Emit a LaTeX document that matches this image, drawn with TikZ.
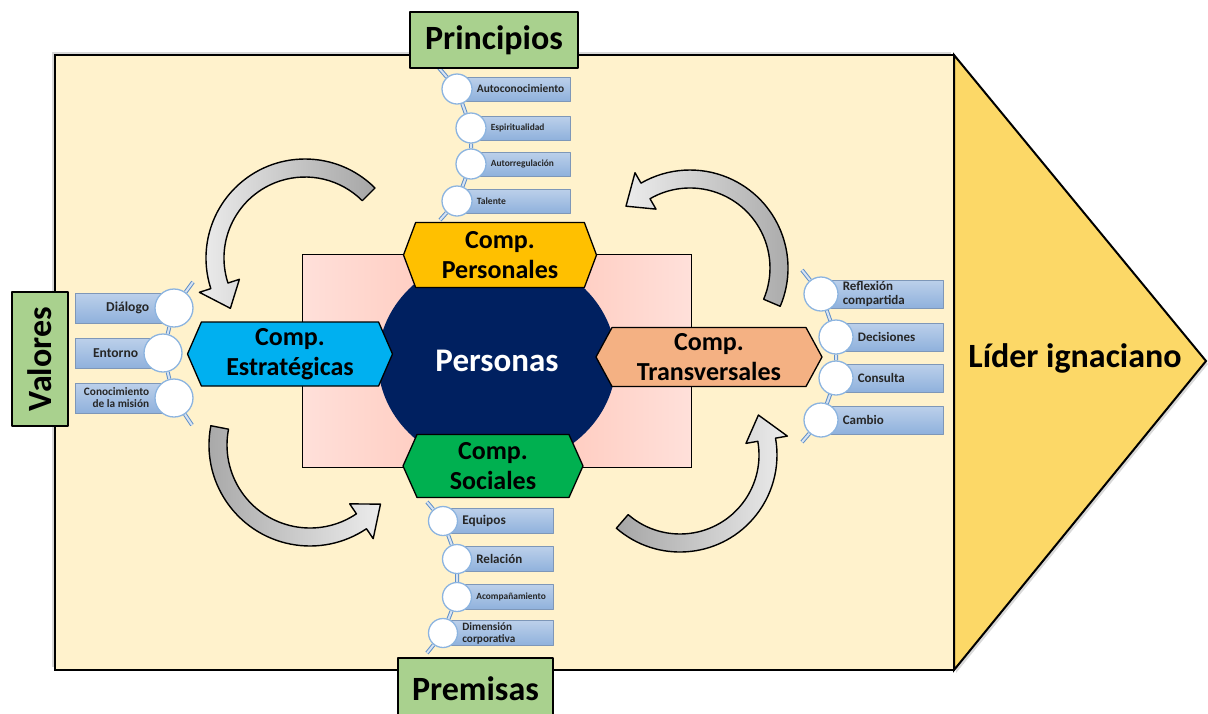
\documentclass[tikz,border=0pt]{standalone}
\usepackage{fontspec}
\setmainfont{Carlito}
\usetikzlibrary{positioning,shapes.geometric,shapes.symbols,shadows}

\definecolor{cream}{HTML}{FFF2CC}
\definecolor{leadgold}{HTML}{FCD867}
\definecolor{titlegreen}{HTML}{A9D18E}
\definecolor{pinklight}{HTML}{FFE0DA}
\definecolor{pinkdark}{HTML}{FFC2B3}
\definecolor{navy}{HTML}{002060}
\definecolor{compyellow}{HTML}{FFC000}
\definecolor{compgreen}{HTML}{00B050}
\definecolor{compblue}{HTML}{00B0F0}
\definecolor{comporange}{HTML}{F4B183}
\definecolor{bartop}{HTML}{BCD0EA}
\definecolor{barbot}{HTML}{8FB1DC}
\definecolor{barline}{HTML}{7E97B8}
\definecolor{dotline}{HTML}{8CB4E0}
\definecolor{railblue}{HTML}{5F8FC9}

\pgfdeclarelayer{bg}
\pgfdeclarelayer{rails}
\pgfsetlayers{bg,rails,main}

% center, tail angle, body end angle, tip angle, radius, shading
\newcommand{\bendarrow}[6]{%
  \begin{scope}[shift={#1}]
    \draw[turn,#6] (#2:#5+9) arc[start angle=#2,end angle=#3,radius=#5+9]
      -- (#3:#5+21) -- (#4:#5) -- (#3:#5-21) -- (#3:#5-9)
      arc[start angle=#3,end angle=#2,radius=#5-9] -- cycle;
  \end{scope}}

\begin{document}
\begin{tikzpicture}[x=1pt,y=-1pt,line join=round,
    titlebox/.style={draw=black,fill=titlegreen,line width=1.3pt,inner sep=0pt,
      font=\bfseries\fontsize{34}{40}\selectfont},
    comp/.style={signal,signal to=west and east,draw=black,line width=1.3pt,
      inner sep=0pt,align=center,font=\bfseries\fontsize{26}{30}\selectfont},
    itembar/.style={draw=barline,top color=bartop,bottom color=barbot,line width=.7pt},
    itemdot/.style={circle,draw=dotline,fill=white,line width=1.3pt,inner sep=0pt},
    itemtext/.style={inner sep=0pt,text=black!85},
    rail/.style={draw=railblue,double=white!75!railblue,double distance=2pt,line width=1pt},
    turn/.style={draw=black,line width=1.4pt}]
\useasboundingbox (0,0) rectangle (1208,713);

\begin{pgfonlayer}{bg}
  \draw[line width=2pt,fill=cream,
    drop shadow={shadow xshift=-3pt,shadow yshift=3pt,opacity=.3}] (55,55) rectangle (954,670);
  \draw[line width=2pt,fill=leadgold,
    drop shadow={shadow xshift=2pt,shadow yshift=-3pt,opacity=.3}] (954,55) -- (1206,361) -- (954,670) -- cycle;
  \node[draw=black,line width=1pt,left color=pinklight,right color=pinklight,middle color=pinkdark,
    minimum width=389pt,minimum height=213pt] (core) at (496.5,360.5) {};
\end{pgfonlayer}

\node[font=\bfseries\fontsize{34}{40}\selectfont] (lider) at (1075,358) {Líder ignaciano};

% turning arrows
\bendarrow{(305,258)}{-45}{-198}{-214}{90}{left color=gray!15,right color=gray!70}
\bendarrow{(690,268)}{23}{-120}{-136}{89}{left color=gray!15,right color=gray!70}
\bendarrow{(310,445)}{191}{56}{40}{92}{left color=gray!70,right color=gray!15}
\bendarrow{(680,455)}{131}{-10}{-27}{88}{left color=gray!70,right color=gray!15}

% center
\node[ellipse,fill=navy,minimum width=238pt,minimum height=214pt,text=white,
  font=\bfseries\fontsize{33}{40}\selectfont] (pers) at (497,361) {Personas};
\node[comp,fill=compyellow,signal pointer angle=139,minimum width=193pt,minimum height=65pt]
  (cpers) at (500,255) {Comp.\\Personales};
\node[comp,fill=compgreen,signal pointer angle=132,minimum width=180pt,minimum height=63pt]
  (csoc) at (493,466) {Comp.\\Sociales};
\node[comp,fill=compblue,signal pointer angle=133,minimum width=205pt,minimum height=64pt]
  (cest) at (290,354) {Comp.\\Estratégicas};
\node[comp,fill=comporange,signal pointer angle=123,minimum width=226pt,minimum height=59pt]
  (ctrans) at (709,357) {Comp.\\Transversales};

% titles
\node[titlebox,minimum width=168pt,minimum height=56pt] (princ) at (494,40) {Principios};
\node[titlebox,minimum width=155pt,minimum height=62pt] (prem) at (475.5,689) {Premisas};
\node[titlebox,rotate=90,minimum width=134pt,minimum height=56pt] (val) at (40,359) {Valores};

% Principios
\foreach \cx/\cy/\n/\txt/\fs in {457/89/pa/Autoconocimiento/11.4,471/128/pb/Espiritualidad/9.4,
    471/164/pc/Autorregulación/9.4,457/201/pd/Talente/9.6}{
  \draw[itembar] (\cx,\cy-12) rectangle (570,\cy+12);
  \node[itemdot,minimum size=30pt] (\n) at (\cx,\cy) {};
  \node[itemtext,font=\bfseries\fontsize{\fs}{12}\selectfont,right=4pt of \n] (\n t) {\txt};
}
% Valores
\foreach \cx/\cy/\n/\txt/\fs in {174/308/va/Diálogo/13.6,163/353/vb/Entorno/13.6,
    174/398/vc/{Conocimiento\\de la misión}/11.3}{
  \draw[itembar] (75,\cy-15) rectangle (\cx,\cy+15);
  \node[itemdot,minimum size=38pt] (\n) at (\cx,\cy) {};
  \node[itemtext,align=right,font=\bfseries\fontsize{\fs}{12}\selectfont,left=5pt of \n] (\n t) {\txt};
}
% Transversales
\foreach \cx/\cy/\n/\txt in {821/294/ta/{Reflexión\\compartida},836/337/tb/Decisiones,
    836/378/tc/Consulta,821/420/td/Cambio}{
  \draw[itembar] (\cx,\cy-14) rectangle (943,\cy+14);
  \node[itemdot,minimum size=34pt] (\n) at (\cx,\cy) {};
  \node[itemtext,align=left,font=\bfseries\fontsize{13}{13.5}\selectfont,right=4pt of \n] (\n t) {\txt};
}
% Sociales
\foreach \cx/\cy/\n/\txt/\fs in {443/521/sa/Equipos/13.3,457/559/sb/Relación/13,
    457/597/sc/Acompañamiento/9.4,443/633/sd/{Dimensión\\corporativa}/11.2}{
  \draw[itembar] (\cx,\cy-12.5) rectangle (553,\cy+12.5);
  \node[itemdot,minimum size=29pt] (\n) at (\cx,\cy) {};
  \node[itemtext,align=left,font=\bfseries\fontsize{\fs}{12}\selectfont,right=4pt of \n] (\n t) {\txt};
}

\coordinate (p0) at (439,68);  \coordinate (p1) at (440,220);
\coordinate (v0) at (193,282); \coordinate (v1) at (192,425);
\coordinate (t0) at (802,270); \coordinate (t1) at (802,442);
\coordinate (s0) at (427,502); \coordinate (s1) at (427,653);
\begin{pgfonlayer}{rails}
  \draw[rail] (p0) -- (pa) -- (pb) -- (pc) -- (pd) -- (p1);
  \draw[rail] (v0) -- (va) -- (vb) -- (vc) -- (v1);
  \draw[rail] (t0) -- (ta) -- (tb) -- (tc) -- (td) -- (t1);
  \draw[rail] (s0) -- (sa) -- (sb) -- (sc) -- (sd) -- (s1);
\end{pgfonlayer}
\end{tikzpicture}
\end{document}
